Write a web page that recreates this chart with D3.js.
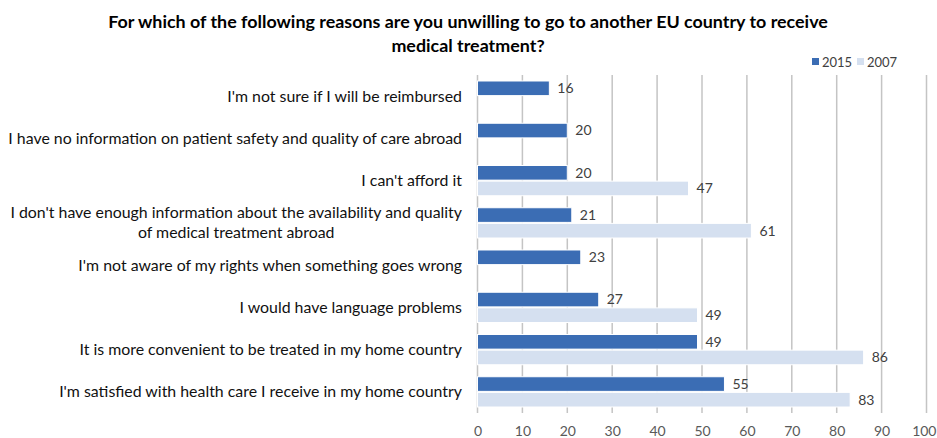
<!DOCTYPE html>
<html>
<head>
<meta charset="utf-8">
<script type="text/javascript" src="https://cdn.jsdelivr.net/npm/d3@7"></script>
<style>
  body { margin: 0; background: #fff; }
  text { font-family: Lato, "Open Sans", sans-serif; }
</style>
</head>
<body>
<script type="text/javascript">
var w = 937;
var h = 438;
var padding = { top: 75, bottom: 25, left: 477.5, right: 10.5 };

// data
var reasons = [
  "I'm not sure if I will be reimbursed",
  "I have no information on patient safety and quality of care abroad",
  "I can't afford it",
  "I don't have enough information about the availability and quality|of medical treatment abroad",
  "I'm not aware of my rights when something goes wrong",
  "I would have language problems",
  "It is more convenient to be treated in my home country",
  "I'm satisfied with health care I receive in my home country"
];
var years = ["2015", "2007"];
var values2015 = [16, 20, 20, 21, 23, 27, 49, 55];
var values2007 = [null, null, 47, 61, null, 49, 86, 83];
var xTicks = [0, 10, 20, 30, 40, 50, 60, 70, 80, 90, 100];
var colors = { "2015": "#3b6db4", "2007": "#d5e0f0" };

var rows = reasons.map(function (r, i) {
  return { reason: r, "2015": values2015[i], "2007": values2007[i] };
});

var svg = d3.select("body").append("svg")
  .attr("width", w)
  .attr("height", h);

var xScale = d3.scaleLinear()
  .domain([0, 100])
  .range([padding.left, w - padding.right]);

var yScale = d3.scaleBand()
  .domain(reasons)
  .range([padding.top, h - padding.bottom])
  .paddingInner(0.26)
  .paddingOuter(0.13);

var ySub = d3.scaleBand()
  .domain(years)
  .range([0, yScale.bandwidth()]);

// title, sized so the first line runs about 720px like the original
var title = svg.append("text")
  .attr("text-anchor", "middle")
  .attr("font-weight", "bold")
  .attr("font-size", 16)
  .attr("fill", "#000");
var t1 = title.append("tspan").attr("x", 468).attr("y", 28)
  .text("For which of the following reasons are you unwilling to go to another EU country to receive");
title.append("tspan").attr("x", 468).attr("y", 52)
  .text("medical treatment?");
title.attr("font-size", 16 * 720 / t1.node().getComputedTextLength());

// grid lines
svg.append("g")
  .selectAll("line")
  .data(xTicks)
  .enter().append("line")
  .attr("x1", function (d) { return xScale(d); })
  .attr("x2", function (d) { return xScale(d); })
  .attr("y1", padding.top)
  .attr("y2", h - padding.bottom)
  .attr("stroke", "#c4c4c4")
  .attr("stroke-width", 1.5);

// x axis labels
var xAxis = svg.append("g")
  .attr("transform", "translate(0," + (h - padding.bottom) + ")")
  .call(d3.axisBottom(xScale).tickValues(xTicks).tickSize(0).tickPadding(13));
xAxis.select(".domain").remove();
xAxis.selectAll("text")
  .attr("font-family", "Lato, 'Open Sans', sans-serif")
  .attr("font-size", 14)
  .attr("fill", "#595959");
// last label sits on the right edge, keep it inside
xAxis.selectAll(".tick").filter(function (d) { return d === 100; })
  .select("text").attr("text-anchor", "end").attr("x", w - xScale(100) - 1);

// bars
var groups = svg.append("g")
  .selectAll("g")
  .data(rows)
  .enter().append("g")
  .attr("transform", function (d) { return "translate(0," + yScale(d.reason) + ")"; });

function present(d) {
  return years.filter(function (y) { return d[y] != null; })
    .map(function (y) { return { year: y, value: d[y] }; });
}

groups.selectAll("rect")
  .data(present)
  .enter().append("rect")
  .attr("x", xScale(0))
  .attr("y", function (d) { return ySub(d.year) + 0.5; })
  .attr("width", function (d) { return xScale(d.value) - xScale(0); })
  .attr("height", ySub.bandwidth() - 1)
  .attr("fill", function (d) { return colors[d.year]; })
  .attr("stroke", "#fff")
  .attr("stroke-width", 1);

groups.selectAll("text.value")
  .data(present)
  .enter().append("text")
  .attr("class", "value")
  .attr("x", function (d) { return xScale(d.value) + 8; })
  .attr("y", function (d) { return ySub(d.year) + ySub.bandwidth() / 2; })
  .attr("dy", "0.35em")
  .attr("font-size", 14)
  .attr("fill", "#404040")
  .text(function (d) { return d.value; });

// category labels (right aligned block, lines centered)
var labelRight = 462;
var labels = svg.append("g")
  .attr("font-size", 14)
  .attr("fill", "#111");

var probe = labels.append("text").text(reasons[1]);
var labelSize = 14 * 454 / probe.node().getComputedTextLength();
probe.remove();
labels.attr("font-size", labelSize);

labels.selectAll("text")
  .data(reasons)
  .enter().append("text")
  .attr("text-anchor", "middle")
  .each(function (r) {
    var t = d3.select(this);
    var lines = r.split("|");
    var cy = yScale(r) + yScale.bandwidth() / 2;
    var lh = 20;
    var spans = lines.map(function (l, i) {
      return t.append("tspan")
        .attr("y", cy + (i - (lines.length - 1) / 2) * lh)
        .attr("dy", "0.35em")
        .text(l);
    });
    var widest = d3.max(spans, function (s) { return s.node().getComputedTextLength(); });
    spans.forEach(function (s) { s.attr("x", labelRight - widest / 2); });
  });

// legend
var legend = svg.append("g")
  .selectAll("g")
  .data(years)
  .enter().append("g")
  .attr("transform", function (d, i) { return "translate(" + (812 + i * 45) + ",58)"; });
legend.append("rect")
  .attr("width", 7).attr("height", 7)
  .attr("fill", function (d) { return colors[d]; });
legend.append("text")
  .attr("x", 10).attr("y", 4)
  .attr("dy", "0.35em")
  .attr("font-size", 13)
  .attr("fill", "#404040")
  .text(function (d) { return d; });
</script>
</body>
</html>
